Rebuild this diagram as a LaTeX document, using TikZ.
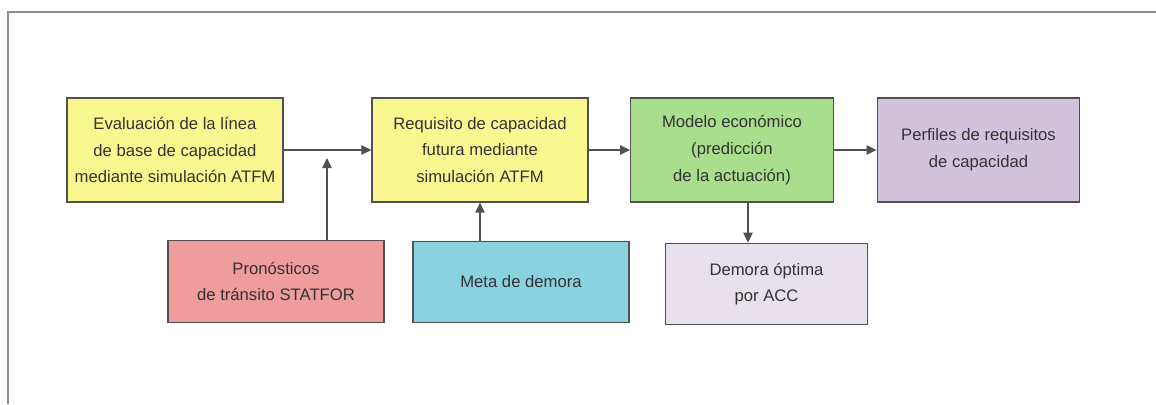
\documentclass[tikz,border=0pt]{standalone}
\usepackage{fontspec}
\setmainfont{Liberation Sans}
\usepackage{tikz}
\usetikzlibrary{arrows.meta}
\definecolor{boxyellow}{HTML}{F9F78F}
\definecolor{boxpink}{HTML}{EE9C9C}
\definecolor{boxcyan}{HTML}{8AD2E0}
\definecolor{boxgreen}{HTML}{A9DE8C}
\definecolor{boxpurple}{HTML}{D2C3DD}
\definecolor{boxlilac}{HTML}{E8E1EC}
\definecolor{linegray}{HTML}{505050}
\tikzset{stage/.style={draw=linegray,line width=0.9pt,align=center,inner sep=0pt,
  minimum width=162pt,minimum height=78pt,font=\fontsize{12.5}{20}\selectfont,text=black!80},
  input/.style={stage,minimum height=61pt},
  flow/.style={draw=linegray,line width=0.9pt,-{Triangle[length=7.5pt,width=7pt]}}}

\begin{document}
\begin{tikzpicture}[x=0.75pt,y=-0.75pt]
    % Frame
    \useasboundingbox (0,0) rectangle (1156,404);
    \draw[gray!90,line width=1.1pt] (8,404) -- (8,12) -- (1156,12);

    % Main stages
    \node[stage,fill=boxyellow] (eval) at (175,150) {Evaluación de la línea\\de base de capacidad\\mediante simulación ATFM};
    \node[stage,fill=boxyellow] (req) at (480,150) {Requisito de capacidad\\futura mediante\\simulación ATFM};
    \node[stage,fill=boxgreen,minimum width=152pt] (model) at (732,150) {Modelo económico\\(predicción\\de la actuación)};
    \node[stage,fill=boxpurple,minimum width=152pt] (prof) at (978.5,150) {Perfiles de requisitos\\de capacidad};

    % Inputs and output
    \node[input,fill=boxpink] (fcst) at (276,281.5) {Pronósticos\\de tránsito STATFOR};
    \node[input,fill=boxcyan] (goal) at (521,282) {Meta de demora};
    \node[input,fill=boxlilac,minimum width=152pt] (delay) at (766.5,284) {Demora óptima\\por ACC};

    \coordinate (join) at (327,158);

    % Arrows
    \draw[flow] (eval) -- (req);
    \draw[flow] (req) -- (model);
    \draw[flow] (model) -- (prof);
    \draw[flow] (fcst.north -| join) -- (join);
    \draw[flow] (goal.north -| req) -- (req.south);
    \draw[flow] ([xshift=12pt]model.south) -- ([xshift=12pt]model.south |- delay.north);
\end{tikzpicture}
\end{document}
